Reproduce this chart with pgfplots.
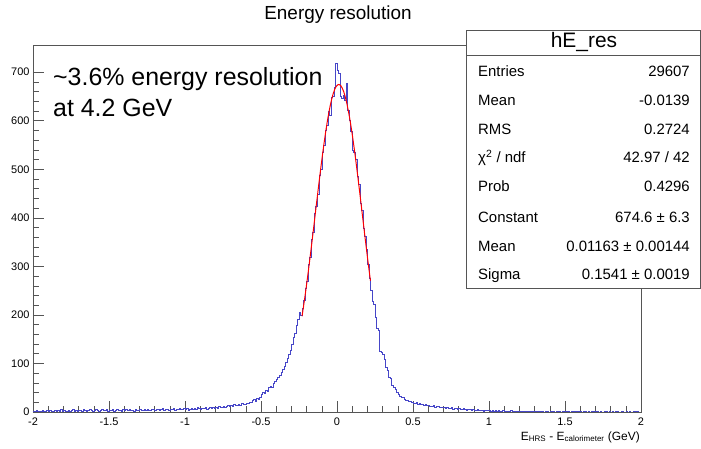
\documentclass[border=0pt]{standalone}
\usepackage{fontspec}
\setmainfont{Liberation Sans}
\usepackage{pgfplots}
\pgfplotsset{compat=1.18}
\definecolor{histblue}{RGB}{70,70,200}
\definecolor{framegray}{RGB}{85,85,85}
\begin{document}
\begin{tikzpicture}[x=1bp,y=1bp]
\begin{axis}[
  at={(0,0)}, anchor=south west,
  scale only axis, width=608bp, height=367bp,
  xmin=-2, xmax=2, ymin=0, ymax=756,
  xtick={-2,-1.5,-1,-0.5,0,0.5,1,1.5,2},
  xticklabels={-2,-1.5,-1,-0.5,0,0.5,1,1.5,2},
  ytick={0,100,200,300,400,500,600,700},
  yticklabels={0,100,200,300,400,500,600,700},
  minor x tick num=4, minor y tick num=4,
  tick align=inside, xtick pos=bottom, ytick pos=left,
  major tick length=11bp, minor tick length=5.5bp,
  tick style={framegray, line width=0.5pt},
  axis line style={framegray, line width=0.6pt},
  ticklabel style={font=\fontsize{11}{13}\selectfont},
  xticklabel style={yshift=-2bp},
  clip=true,
]
\addplot[const plot, no marks, draw=histblue, line width=0.5pt] coordinates {
(-2.00,2)(-1.99,1)(-1.98,3)(-1.97,2)(-1.96,0)(-1.95,2)(-1.94,4)(-1.93,1)(-1.92,2)(-1.91,3)
(-1.90,1)(-1.89,3)(-1.88,2)(-1.87,2)(-1.86,4)(-1.85,1)(-1.84,3)(-1.83,2)(-1.82,5)(-1.81,2)
(-1.80,3)(-1.79,2)(-1.78,1)(-1.77,4)(-1.76,2)(-1.75,3)(-1.74,5)(-1.73,2)(-1.72,3)(-1.71,1)
(-1.70,4)(-1.69,3)(-1.68,2)(-1.67,5)(-1.66,3)(-1.65,2)(-1.64,4)(-1.63,6)(-1.62,3)(-1.61,2)
(-1.60,3)(-1.59,5)(-1.58,4)(-1.57,2)(-1.56,3)(-1.55,6)(-1.54,4)(-1.53,3)(-1.52,5)(-1.51,2)
(-1.50,4)(-1.49,3)(-1.48,6)(-1.47,2)(-1.46,4)(-1.45,5)(-1.44,3)(-1.43,4)(-1.42,2)(-1.41,5)
(-1.40,3)(-1.39,5)(-1.38,4)(-1.37,6)(-1.36,3)(-1.35,4)(-1.34,2)(-1.33,5)(-1.32,4)(-1.31,3)
(-1.30,5)(-1.29,4)(-1.28,3)(-1.27,6)(-1.26,4)(-1.25,5)(-1.24,3)(-1.23,4)(-1.22,6)(-1.21,5)
(-1.20,4)(-1.19,6)(-1.18,5)(-1.17,3)(-1.16,5)(-1.15,7)(-1.14,4)(-1.13,5)(-1.12,6)(-1.11,4)
(-1.10,6)(-1.09,5)(-1.08,7)(-1.07,4)(-1.06,6)(-1.05,5)(-1.04,8)(-1.03,6)(-1.02,5)(-1.01,7)
(-1.00,5)(-0.99,7)(-0.98,4)(-0.97,6)(-0.96,8)(-0.95,5)(-0.94,7)(-0.93,6)(-0.92,9)(-0.91,7)
(-0.90,6)(-0.89,8)(-0.88,7)(-0.87,9)(-0.86,6)(-0.85,8)(-0.84,10)(-0.83,7)(-0.82,9)(-0.81,8)
(-0.80,9)(-0.79,8)(-0.78,11)(-0.77,10)(-0.76,9)(-0.75,12)(-0.74,10)(-0.73,11)(-0.72,13)(-0.71,12)
(-0.70,14)(-0.69,12)(-0.68,15)(-0.67,13)(-0.66,14)(-0.65,16)(-0.64,13)(-0.63,17)(-0.62,15)(-0.61,16)
(-0.60,19)(-0.59,17)(-0.58,21)(-0.57,20)(-0.56,24)(-0.55,27)(-0.54,23)(-0.53,29)(-0.52,26)(-0.51,31)
(-0.50,36)(-0.49,40)(-0.48,38)(-0.47,45)(-0.46,43)(-0.45,50)(-0.44,54)(-0.43,52)(-0.42,60)(-0.41,63)
(-0.40,68)(-0.39,72)(-0.38,75)(-0.37,82)(-0.36,88)(-0.35,94)(-0.34,103)(-0.33,110)(-0.32,118)(-0.31,128)
(-0.30,140)(-0.29,153)(-0.28,162)(-0.27,178)(-0.26,192)(-0.25,206)(-0.24,199)(-0.23,214)(-0.22,231)(-0.21,255)
(-0.20,270)(-0.19,305)(-0.18,318)(-0.17,355)(-0.16,371)(-0.15,410)(-0.14,424)(-0.13,448)(-0.12,487)(-0.11,500)
(-0.10,536)(-0.09,549)(-0.08,581)(-0.07,590)(-0.06,620)(-0.05,612)(-0.04,648)(-0.03,651)(-0.02,669)(-0.01,718)
(0.00,704)(0.01,697)(0.02,650)(0.03,646)(0.04,652)(0.05,643)(0.06,677)(0.07,622)(0.08,600)(0.09,578)
(0.10,540)(0.11,536)(0.12,520)(0.13,486)(0.14,470)(0.15,430)(0.16,415)(0.17,378)(0.18,362)(0.19,335)
(0.20,305)(0.21,276)(0.22,250)(0.23,228)(0.24,221)(0.25,196)(0.26,172)(0.27,168)(0.28,126)(0.29,123)
(0.30,118)(0.31,108)(0.32,92)(0.33,86)(0.34,72)(0.35,70)(0.36,55)(0.37,52)(0.38,46)(0.39,40)
(0.40,36)(0.41,33)(0.42,30)(0.43,31)(0.44,27)(0.45,25)(0.46,24)(0.47,22)(0.48,23)(0.49,21)
(0.50,19)(0.51,18)(0.52,20)(0.53,16)(0.54,17)(0.55,15)(0.56,16)(0.57,14)(0.58,15)(0.59,13)
(0.60,14)(0.61,12)(0.62,11)(0.63,13)(0.64,10)(0.65,12)(0.66,11)(0.67,9)(0.68,10)(0.69,9)
(0.70,10)(0.71,8)(0.72,9)(0.73,7)(0.74,8)(0.75,9)(0.76,6)(0.77,8)(0.78,7)(0.79,6)
(0.80,7)(0.81,5)(0.82,6)(0.83,7)(0.84,5)(0.85,4)(0.86,6)(0.87,5)(0.88,4)(0.89,5)
(0.90,4)(0.91,3)(0.92,5)(0.93,4)(0.94,3)(0.95,4)(0.96,2)(0.97,4)(0.98,3)(0.99,3)
(1.00,4)(1.01,2)(1.02,3)(1.03,2)(1.04,3)(1.05,1)(1.06,3)(1.07,2)(1.08,2)(1.09,3)
(1.10,1)(1.11,2)(1.12,2)(1.13,1)(1.14,3)(1.15,2)(1.16,1)(1.17,2)(1.18,1)(1.19,2)
(1.20,1)(1.21,1)(1.22,2)(1.23,0)(1.24,2)(1.25,1)(1.26,1)(1.27,2)(1.28,1)(1.29,1)
(1.30,2)(1.31,0)(1.32,1)(1.33,1)(1.34,2)(1.35,1)(1.36,0)(1.37,1)(1.38,1)(1.39,0)
(1.40,1)(1.41,2)(1.42,1)(1.43,0)(1.44,1)(1.45,1)(1.46,2)(1.47,0)(1.48,1)(1.49,1)
(1.50,0)(1.51,1)(1.52,1)(1.53,0)(1.54,2)(1.55,1)(1.56,0)(1.57,1)(1.58,0)(1.59,1)
(1.60,1)(1.61,0)(1.62,1)(1.63,2)(1.64,0)(1.65,1)(1.66,0)(1.67,1)(1.68,1)(1.69,0)
(1.70,1)(1.71,1)(1.72,0)(1.73,1)(1.74,0)(1.75,0)(1.76,1)(1.77,2)(1.78,0)(1.79,1)
(1.80,0)(1.81,1)(1.82,0)(1.83,1)(1.84,1)(1.85,0)(1.86,0)(1.87,1)(1.88,0)(1.89,0)
(1.90,1)(1.91,0)(1.92,1)(1.93,0)(1.94,0)(1.95,1)(1.96,0)(1.97,1)(1.98,0)(1.99,0)
(2.00,0)
};
\addplot[no marks, draw=red, line width=1pt] coordinates {
(-0.230,197.3)(-0.225,207.5)(-0.215,228.8)(-0.205,251.2)(-0.195,274.6)(-0.185,298.9)
(-0.175,324.0)(-0.165,349.8)(-0.155,376.0)(-0.145,402.5)(-0.135,429.0)(-0.125,455.4)
(-0.115,481.3)(-0.105,506.6)(-0.095,531.0)(-0.085,554.2)(-0.075,576.0)(-0.065,596.1)
(-0.055,614.4)(-0.045,630.5)(-0.035,644.4)(-0.025,655.8)(-0.015,664.6)(-0.005,670.7)
(0.005,674.0)(0.0116,674.6)(0.015,674.4)(0.025,672.1)(0.035,666.9)(0.045,659.0)(0.055,648.4)
(0.065,635.3)(0.075,619.9)(0.085,602.3)(0.095,582.7)(0.105,561.5)(0.115,538.7)
(0.125,514.7)(0.135,489.6)(0.145,463.9)(0.155,437.6)(0.165,411.1)(0.175,384.6)
(0.185,358.3)(0.195,332.3)(0.205,307.0)(0.215,282.4)(0.220,270.4)
};
\end{axis}
% title
\node[font=\fontsize{19}{21}\selectfont] at (305,397) {Energy resolution};
% annotation
\node[anchor=base west, inner sep=0pt, font=\fontsize{25}{27}\selectfont] at (20,326) {\textasciitilde3.6\% energy resolution};
\node[anchor=base west, inner sep=0pt, font=\fontsize{25}{27}\selectfont] at (20,295) {at 4.2 GeV};
% x label
\node[anchor=east, inner sep=0pt, font=\fontsize{12}{14}\selectfont] at (607,-25) {E\textsubscript{HRS} - E\textsubscript{calorimeter} (GeV)};
% stats box
\draw[framegray, fill=white, line width=0.6pt] (433,124) rectangle (667,382);
\draw[framegray, line width=0.6pt] (433,357) -- (667,357);
\node[font=\fontsize{21}{22}\selectfont] at (551,369.5) {hE\_res};
\tikzset{sl/.style={anchor=west, inner sep=0pt, text height=1.5ex, text depth=0.25ex, font=\fontsize{15}{16}\selectfont},
         sr/.style={anchor=east, inner sep=0pt, text height=1.5ex, text depth=0.25ex, font=\fontsize{15}{16}\selectfont}}
\node[sl] at (445,339) {Entries};   \node[sr] at (657,339) {29607};
\node[sl] at (445,310) {Mean};      \node[sr] at (657,310) {-0.0139};
\node[sl] at (445,281) {RMS};       \node[sr] at (657,281) {0.2724};
\node[sl] at (445,253) {χ\textsuperscript{2} / ndf}; \node[sr] at (657,253) {42.97 / 42};
\node[sl] at (445,224) {Prob};      \node[sr] at (657,224) {0.4296};
\node[sl] at (445,193) {Constant};  \node[sr] at (657,193) {674.6 ± 6.3};
\node[sl] at (445,164) {Mean};      \node[sr] at (657,164) {0.01163 ± 0.00144};
\node[sl] at (445,136) {Sigma};     \node[sr] at (657,136) {0.1541 ± 0.0019};
\pgfresetboundingbox
\path[use as bounding box] (-33,-37) rectangle (668,412);
\end{tikzpicture}
\end{document}
